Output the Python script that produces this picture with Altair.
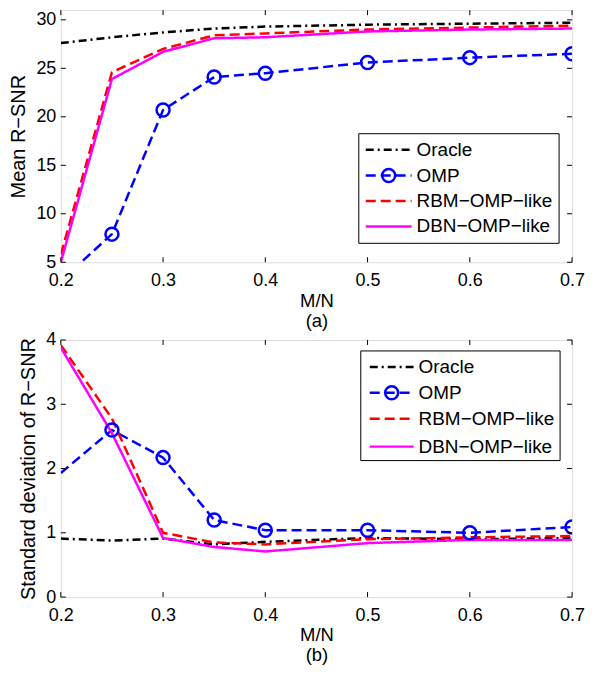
import altair as alt
import pandas as pd

# ---------------- data ----------------
x_vals = [0.2, 0.25, 0.3, 0.35, 0.4, 0.5, 0.6, 0.7]
series_names = ["Oracle", "OMP", "RBM−OMP−like", "DBN−OMP−like"]

mean_oracle = [27.6, 28.2, 28.7, 29.1, 29.3, 29.5, 29.6, 29.7]
mean_omp = [3.1, 7.9, 20.7, 24.1, 24.5, 25.6, 26.1, 26.5]
mean_rbm = [5.8, 24.6, 27.0, 28.4, 28.6, 29.0, 29.2, 29.4]
mean_dbn = [5.0, 23.9, 26.7, 28.1, 28.2, 28.8, 29.0, 29.1]

std_oracle = [0.91, 0.88, 0.91, 0.82, 0.86, 0.92, 0.90, 0.92]
std_omp = [1.93, 2.60, 2.17, 1.20, 1.04, 1.04, 1.00, 1.09]
std_rbm = [3.92, 2.78, 1.00, 0.85, 0.82, 0.90, 0.93, 0.95]
std_dbn = [3.88, 2.55, 0.92, 0.78, 0.71, 0.84, 0.89, 0.89]

x_ticks = [0.2, 0.3, 0.4, 0.5, 0.6, 0.7]
mean_ticks = [5, 10, 15, 20, 25, 30]
std_ticks = [0, 1, 2, 3, 4]

colors = ["#000000", "#0000ff", "#ff0000", "#ff00ff"]
dashes = [[8, 4, 2, 4], [10, 5], [10, 5], [1, 0]]

FONT = "Liberation Sans"
W = 513
LW = 2.5


def long_df(lists):
    rows = []
    for name, vals in zip(series_names, lists):
        for xv, yv in zip(x_vals, vals):
            rows.append({"x": xv, "y": yv, "series": name})
    return pd.DataFrame(rows)


def panel(df, yticks, ydomain, H, ytitle, xtitle, leg):
    xs = alt.Scale(domain=[0.2, 0.7], nice=False, zero=False)
    ys = alt.Scale(domain=ydomain, nice=False, zero=False)
    base = alt.Chart(df)
    lines = base.mark_line(strokeWidth=LW, clip=True).encode(
        x=alt.X("x:Q", scale=xs, axis=alt.Axis(
            values=x_ticks, format=".1f", title=xtitle, grid=False, ticks=False,
            tickSize=0, domain=False, labelFlush=False, labelPadding=9,
            labelFontSize=18, labelFont=FONT, labelColor="#000",
            titleFont=FONT, titleFontSize=18.5, titleFontWeight="normal",
            titleColor="#000", titleLineHeight=20, titlePadding=2)),
        y=alt.Y("y:Q", scale=ys, axis=alt.Axis(
            values=yticks, format="d", title=ytitle, grid=False, ticks=False,
            tickSize=0, domain=False, labelFlush=False, labelPadding=5,
            labelFontSize=18, labelFont=FONT, labelColor="#000",
            titleFont=FONT, titleFontSize=20, titleFontWeight="normal",
            titleColor="#000", titlePadding=7)),
        color=alt.Color("series:N", scale=alt.Scale(domain=series_names, range=colors), legend=None),
        strokeDash=alt.StrokeDash("series:N", scale=alt.Scale(domain=series_names, range=dashes), legend=None),
    )
    markers = base.transform_filter(
        (alt.datum.series == "OMP") & (alt.datum.x > 0.21)
    ).mark_point(shape="circle", size=170, strokeWidth=LW, color="#0000ff",
                 filled=False, clip=True, opacity=1).encode(x="x:Q", y="y:Q")

    # inward tick marks on all four sides
    xt = alt.Chart(pd.DataFrame({"x": x_ticks}))
    yt = alt.Chart(pd.DataFrame({"y": yticks}))
    tk = dict(color="#000", strokeWidth=1)
    t_bottom = xt.mark_rule(**tk).encode(x="x:Q", y=alt.value(H - 5), y2=alt.value(H))
    t_top = xt.mark_rule(**tk).encode(x="x:Q", y=alt.value(0), y2=alt.value(5))
    t_left = yt.mark_rule(**tk).encode(y="y:Q", x=alt.value(0), x2=alt.value(5))
    t_right = yt.mark_rule(**tk).encode(y="y:Q", x=alt.value(W - 5), x2=alt.value(W))

    # legend box
    bx0, by0, bx1, by1, lx0, lx1, tx, rows = leg
    layers = [lines, markers, t_bottom, t_top, t_left, t_right]
    one = pd.DataFrame({"k": [0]})
    layers.append(alt.Chart(one).mark_rect(fill="white", stroke="black", strokeWidth=1).encode(
        x=alt.value(bx0), x2=alt.value(bx1), y=alt.value(by0), y2=alt.value(by1)))
    for name, col, dash, ry in zip(series_names, colors, dashes, rows):
        d = alt.Chart(pd.DataFrame({"label": [name]}))
        layers.append(d.mark_rule(color=col, strokeWidth=LW, strokeDash=dash).encode(
            x=alt.value(lx0), x2=alt.value(lx1), y=alt.value(ry)))
        if name == "OMP":
            layers.append(d.mark_point(shape="circle", size=170, strokeWidth=LW, color=col,
                                       filled=False, opacity=1).encode(
                x=alt.value((lx0 + lx1) / 2), y=alt.value(ry)))
        layers.append(d.mark_text(align="left", baseline="middle", font=FONT, fontSize=19,
                                  color="#000").encode(
            x=alt.value(tx), y=alt.value(ry), text="label:N"))

    return alt.layer(*layers).properties(width=W, height=H)


H1 = 253
H2 = 258
top = panel(long_df([mean_oracle, mean_omp, mean_rbm, mean_dbn]), mean_ticks, [5, 31], H1,
            "Mean R−SNR", ["M/N", "(a)"],
            (299, H1 - 129, 500, H1 - 19, 306, 352, 357,
             [H1 - 113, H1 - 87, H1 - 61.5, H1 - 36]))
bottom = panel(long_df([std_oracle, std_omp, std_rbm, std_dbn]), std_ticks, [0, 4], H2,
               "Standard deviation of R−SNR", ["M/N", "(b)"],
               (301, 11, 501, 121, 310, 354, 359, [27, 53, 79, 107]))

chart = alt.vconcat(top, bottom, spacing=0).properties(
    padding={"left": 0, "top": 0, "right": 0, "bottom": 0}
).configure_view(stroke="black", strokeWidth=1).configure(background="white")

chart.save("out.html", embed_options={"renderer": "svg", "actions": False})
